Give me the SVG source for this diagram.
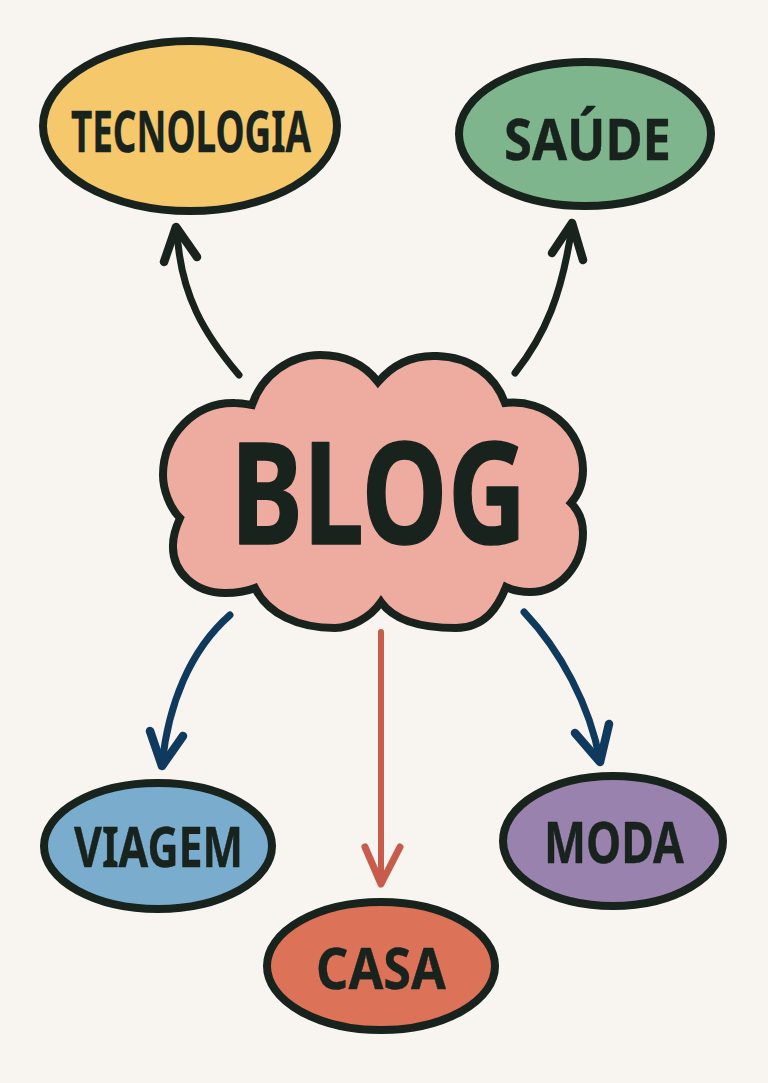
<svg xmlns="http://www.w3.org/2000/svg" width="768" height="1083" viewBox="0 0 768 1083">
<style>
.n{stroke:#18231e;stroke-width:8}
.t{font-family:"Noto Sans","Liberation Sans",sans-serif;font-weight:700;fill:#18231e;stroke:#18231e;stroke-width:0.4;stroke-linejoin:round;text-anchor:middle}
.c{fill:none;stroke-width:7;stroke-linecap:round;stroke-linejoin:round}
.h{stroke-width:8.5}
.k{stroke:#18231e}.b{stroke:#0f3a5e}.r{stroke:#c85c4a}
</style>
<rect width="768" height="1083" fill="#f8f4f0"/>
<g id="connectors">
<path class="c k" d="M239 375C205 335 180 295 177 230"/>
<path class="c k h" d="M164 262L176 227L197 257"/>
<path class="c k" d="M515 373C545 335 562 295 572 226"/>
<path class="c k h" d="M552 253L572 223L583 260"/>
<path class="c b" d="M230 615C190 650 168 705 162 765"/>
<path class="c b h" d="M150 731L162 766L183 736"/>
<path class="c b" d="M524 612C560 650 590 705 600 761"/>
<path class="c b h" d="M575 733L600 762L609 724"/>
<path class="c r" style="stroke-width:6" d="M381 632V884"/>
<path class="c r" style="stroke-width:7" d="M365 847L381 884L400 847"/>
</g>
<g id="blog">
<path class="n" fill="#eeaba0" stroke-linejoin="miter" d="M378 382C395 362 415 355 437 356C470 357 495 375 505 403C545 398 583 430 583 470C583 485 578 495 571 503C580 512 583 522 583 533C583 565 560 592 530 592C520 592 512 590 506 587C498 607 485 628 456 628C425 628 395 622 381 602C370 618 350 628 335 628C298 628 268 614 255 588C245 592 235 593 225 593C195 593 172 572 173 545C173 535 176 527 180 518C170 508 163 490 163 475C163 435 195 402 235 403C240 403 246 404 252 405C262 375 290 355 320 355C345 355 365 365 378 382Z"/>
<text class="t" x="378.5" y="544" font-size="142" textLength="296" lengthAdjust="spacingAndGlyphs" style="stroke-width:1.5">BLOG</text>
</g>
<g id="tecnologia">
<ellipse class="n" cx="190" cy="126" rx="147" ry="85" fill="#f5c96b"/>
<text class="t" x="191" y="152" font-size="58" textLength="240" lengthAdjust="spacingAndGlyphs">TECNOLOGIA</text>
</g>
<g id="saude">
<ellipse class="n" cx="585" cy="134" rx="126" ry="72" fill="#7fb58c"/>
<text class="t" x="587.5" y="160" font-size="58" textLength="167" lengthAdjust="spacingAndGlyphs">SAÚDE</text>
</g>
<g id="viagem">
<ellipse class="n" cx="158" cy="846" rx="114" ry="63" fill="#7aaccd"/>
<text class="t" x="158.5" y="867" font-size="56" textLength="169" lengthAdjust="spacingAndGlyphs">VIAGEM</text>
</g>
<g id="casa">
<ellipse class="n" cx="381" cy="966" rx="114" ry="64" fill="#dc7358"/>
<text class="t" x="381" y="989" font-size="57" textLength="130" lengthAdjust="spacingAndGlyphs">CASA</text>
</g>
<g id="moda">
<ellipse class="n" cx="613" cy="841" rx="110" ry="65" fill="#9a82ae"/>
<text class="t" x="614" y="863" font-size="57" textLength="140" lengthAdjust="spacingAndGlyphs">MODA</text>
</g>
</svg>
